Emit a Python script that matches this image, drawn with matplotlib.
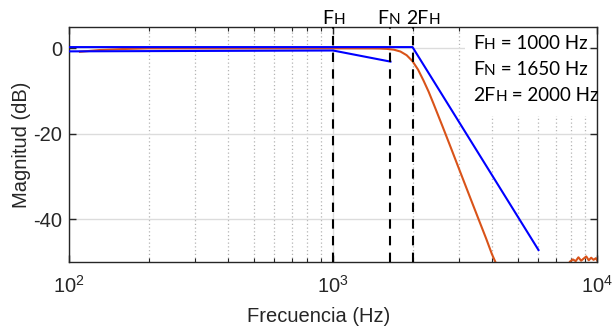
import matplotlib.pyplot as plt
from matplotlib.patches import Rectangle

plt.rcParams['font.family'] = 'Liberation Sans'
plt.rcParams['axes.unicode_minus'] = False

# Frequencies of interest (Hz)
f_h = 1000
f_n = 1650
f_2h = 2000

# Blue asymptotic lines
blue1_f = [100, 2000, 6000]
blue1_db = [0.3, 0.3, -47.2]
blue2_f = [100, 1000, 1650]
blue2_db = [-0.7, -0.5, -3.1]

# Orange measured response
orange_f = [110, 130, 160, 200, 400, 1000, 1400, 1500, 1600, 1700, 1800, 1900,
            2000, 2100, 2200, 2300, 2400, 2600, 2800, 3000, 3300, 3600, 3800,
            4000, 4120]
orange_db = [-0.8, -0.4, -0.15, 0.0, 0.0, 0.0, -0.02, -0.04, -0.12, -0.31,
             -0.74, -1.6, -3.0, -5.0, -7.5, -10.1, -12.9, -18.3, -23.4, -28.2,
             -34.8, -40.8, -44.5, -48.2, -50.0]
noise_f = [7900, 8100, 8300, 8500, 8700, 8900, 9100, 9300, 9500, 9700, 9900, 10000]
noise_db = [-49.9, -49.4, -49.8, -48.9, -49.7, -49.2, -48.7, -49.6, -49.0, -49.5, -49.1, -49.6]

labels_top = [(f_h, [('F', 14), ('H', 11)], -7.5),
              (f_n, [('F', 14), ('N', 11)], -9.5),
              (f_2h, [('2F', 14), ('H', 11)], -4.5)]
legend_lines = [[('F', 14), ('H', 11), (' = 1000 Hz', 13.5)],
                [('F', 14), ('N', 11), (' = 1650 Hz', 13.5)],
                [('2F', 14), ('H', 11), (' = 2000 Hz', 13.5)]]

fig = plt.figure(figsize=(6.13, 3.31), dpi=100)
ax = fig.add_axes([0.1126, 0.2085, 0.8614, 0.7099])
ax.set_axisbelow(True)

ax.plot(orange_f, orange_db, color='#D95319', lw=1.5, zorder=2)
ax.plot(noise_f, noise_db, color='#D95319', lw=1.5, zorder=2)
ax.plot(blue1_f, blue1_db, color='#0000FF', lw=1.5, zorder=3)
ax.plot(blue2_f, blue2_db, color='#0000FF', lw=1.5, zorder=3)

for f in [f_h, f_n, f_2h]:
    ax.axvline(f, color='black', lw=1.5, dashes=(4.5, 3.5), zorder=4)

ax.set_xscale('log')
ax.set_xlim(100, 10000)
ax.set_ylim(-50, 5)
ax.set_yticks([0, -20, -40])

ax.grid(True, which='major', axis='y', color='#dcdcdc', lw=1.0)
ax.grid(True, which='minor', axis='x', color='#b4b4b4', lw=0.9, dashes=(1, 2))
ax.grid(True, which='major', axis='x', color='#dcdcdc', lw=1.0)

ax.tick_params(which='both', direction='in', top=True, right=True,
               colors='#262626', labelsize=14.5)
ax.tick_params(which='major', length=5, width=1)
ax.tick_params(which='minor', length=3, width=0.8)
ax.tick_params(axis='x', which='major', pad=9)
ax.tick_params(axis='y', which='major', pad=5)
for s in ax.spines.values():
    s.set_color('#262626')
    s.set_linewidth(1.0)

ax.set_xlabel('Frecuencia (Hz)', fontsize=14.5, color='#262626')
ax.xaxis.set_label_coords(0.473, -0.19)
ax.set_ylabel('Magnitud (dB)', fontsize=14.5, color='#262626')
ax.yaxis.set_label_coords(-0.072, 0.5)

# white box behind the legend text
ax.add_patch(Rectangle((0.75, 0.62), 0.235, 0.38, transform=ax.transAxes,
                       facecolor='white', edgecolor='none', zorder=1))


def draw_pieces(x, y, pieces, xycoords, offset=0):
    prev = ax.annotate(pieces[0][0], xy=(x, y), xycoords=xycoords,
                       xytext=(offset, 0), textcoords='offset points',
                       ha='left', va='bottom', fontsize=pieces[0][1],
                       family='Lato', color='black', annotation_clip=False)
    for s, size in pieces[1:]:
        prev = ax.annotate(s, xy=(1, 0), xycoords=prev, ha='left', va='bottom',
                           fontsize=size, family='Lato', color='black')


for f, pieces, off in labels_top:
    draw_pieces(f, 1.0, pieces, ('data', 'axes fraction'), off)

for i, pieces in enumerate(legend_lines):
    draw_pieces(0.765, 0.894 - 0.111 * i, pieces, 'axes fraction')

fig.savefig('out.png', dpi=100)
